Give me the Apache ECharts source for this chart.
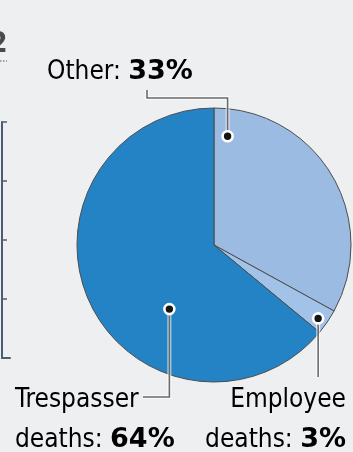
<!DOCTYPE html>
<html>
<head>
<meta charset="utf-8">
<style>
  html, body { margin: 0; padding: 0; background: #eeeff1; }
  #chart { width: 353px; height: 452px; }
</style>
<script src="https://cdn.jsdelivr.net/npm/echarts@6/dist/echarts.min.js"></script>
</head>
<body>
<div id="chart"></div>
<script>
// Share of rail deaths by category
const categories = ['Other', 'Employee', 'Trespasser'];
const shares = [33, 3, 64];
const labelPrefix = ['Other: ', 'Employee\ndeaths: ', 'Trespasser\ndeaths: '];

// Neighbouring panel's axis (only its edge is visible)
const sideTicks = [0, 1, 2, 3, 4];

const FONT = '"DejaVu Sans Condensed", "Liberation Sans Narrow", sans-serif';
const FONT_BOLD = '"DejaVu Sans", "Liberation Sans", sans-serif';
const colors = ['#9bbbe3', '#a3c2e8', '#2483c5'];

const pieCenter = [214, 245];
const pieRadius = 137;

// where each leader line touches its slice: fraction along the slice arc, fraction of radius
const anchorSpec = [
  { along: 0.06, r: 0.80 },
  { along: 0.59, r: 0.93 },
  { along: 0.37, r: 0.57 }
];

const total = shares.reduce((a, b) => a + b, 0);
function anchorPoint(i) {
  let before = 0;
  for (let k = 0; k < i; k++) before += shares[k];
  const startDeg = before / total * 360;
  const spanDeg = shares[i] / total * 360;
  const a = (startDeg + spanDeg * anchorSpec[i].along) * Math.PI / 180;
  const r = pieRadius * anchorSpec[i].r;
  return [pieCenter[0] + r * Math.sin(a), pieCenter[1] - r * Math.cos(a)];
}

const pOther = anchorPoint(0);
const pEmp = anchorPoint(1);
const pTres = anchorPoint(2);

const lineStyle = { stroke: '#6a6a6a', lineWidth: 1.6, fill: null };
const haloStyle = { stroke: 'rgba(255,255,255,0.65)', lineWidth: 4, fill: null };

function leader(points) {
  return [
    { type: 'polyline', shape: { points }, style: haloStyle, z: 10 },
    { type: 'polyline', shape: { points }, style: lineStyle, z: 11 }
  ];
}
function dot(p) {
  return { type: 'circle', shape: { cx: p[0], cy: p[1], r: 5 },
           style: { fill: '#151515', stroke: '#ffffff', lineWidth: 2.6 }, z: 12 };
}

const rich = {
  n: { fontFamily: FONT, fontSize: 26, color: '#3a3a3a', lineHeight: 40 },
  b: { fontFamily: FONT_BOLD, fontSize: 27, fontWeight: 'bold', color: '#2a2a2a', lineHeight: 40 }
};
function labelText(i) {
  const parts = labelPrefix[i].split('\n');
  const last = parts.pop();
  return parts.map(s => '{n|' + s + '}').concat(['{n|' + last + '}{b|' + shares[i] + '%}']).join('\n');
}

const graphics = [
  ...leader([[147, 90], [147, 98], [pOther[0], 98], pOther]),
  ...leader([pEmp, [pEmp[0], 377]]),
  ...leader([pTres, [pTres[0], 397], [143, 397]]),
  dot(pOther), dot(pEmp), dot(pTres),
  { type: 'text', x: 47, y: 52, z: 13,
    style: { text: labelText(0), rich, textAlign: 'left', textVerticalAlign: 'top' } },
  { type: 'text', x: 346, y: 380, z: 13,
    style: { text: labelText(1), rich, textAlign: 'right', textVerticalAlign: 'top' } },
  { type: 'text', x: 15, y: 380, z: 13,
    style: { text: labelText(2), rich, textAlign: 'left', textVerticalAlign: 'top' } },
  // tail of the neighbouring panel's heading
  { type: 'text', x: -10, y: 31, z: 13,
    style: { text: '2', fontFamily: FONT, fontSize: 28, fontWeight: 'bold', fill: '#4a4a4a' } },
  { type: 'line', shape: { x1: 0, y1: 61, x2: 7, y2: 61 },
    style: { stroke: '#8a8a8a', lineWidth: 1.5, lineDash: [1.5, 1.5] } }
];

const chart = echarts.init(document.getElementById('chart'), null, { renderer: 'canvas' });
chart.setOption({
  backgroundColor: '#eeeff1',
  animation: false,
  grid: { left: 2, top: 122, bottom: 94, width: 8 },
  xAxis: {
    type: 'category', data: [''],
    axisLine: { show: true, lineStyle: { color: '#4f5d72', width: 2 } },
    axisTick: { show: false }, axisLabel: { show: false }
  },
  yAxis: {
    type: 'value', min: sideTicks[0], max: sideTicks[sideTicks.length - 1], interval: 1,
    axisLine: { show: true, lineStyle: { color: '#4f5d72', width: 2 } },
    axisTick: { show: true, inside: true, length: 5, lineStyle: { color: '#4f5d72', width: 1.5 } },
    axisLabel: { show: false }, splitLine: { show: false }
  },
  series: [{
    type: 'pie',
    center: pieCenter,
    radius: pieRadius,
    startAngle: 90,
    clockwise: true,
    silent: true,
    label: { show: false },
    labelLine: { show: false },
    itemStyle: { borderColor: '#4d4d4d', borderWidth: 1 },
    data: categories.map((c, i) => ({ name: c, value: shares[i], itemStyle: { color: colors[i] } }))
  }],
  graphic: graphics
});
</script>
</body>
</html>
